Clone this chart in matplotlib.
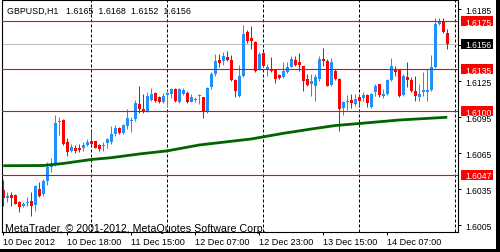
import matplotlib
matplotlib.use('Agg')
import matplotlib.pyplot as plt
from matplotlib.patches import Rectangle
import numpy as np

plt.rcParams['font.family'] = ['Liberation Sans', 'DejaVu Sans']

title = 'GBPUSD,H1   1.6165  1.6168  1.6152  1.6156'
copyright_txt = 'MetaTrader, \u00a9 2001-2012, MetaQuotes Software Corp.'

# hourly bars
opens = [1.60342, 1.60278, 1.60300, 1.60300, 1.60239, 1.60211, 1.60233, 1.60247, 1.60217, 1.60350,
         1.60308, 1.60419, 1.60530, 1.60550, 1.60911, 1.60925, 1.60744, 1.60667, 1.60692, 1.60692,
         1.60689, 1.60719, 1.60750, 1.60747, 1.60717, 1.60711, 1.60733, 1.60739, 1.60808, 1.60855,
         1.60820, 1.60878, 1.60915, 1.60933, 1.61058, 1.61017, 1.61003, 1.61092, 1.61150, 1.61120,
         1.61072, 1.61133, 1.61142, 1.61183, 1.61072, 1.61142, 1.61150, 1.61078, 1.61092, 1.61122,
         1.61114, 1.60989, 1.61197, 1.61308, 1.61425, 1.61419, 1.61447, 1.61425, 1.61258, 1.61128,
         1.61294, 1.61656, 1.61608, 1.61572, 1.61350, 1.61481, 1.61350, 1.61342, 1.61342, 1.61300,
         1.61281, 1.61322, 1.61369, 1.61425, 1.61411, 1.61372, 1.61267, 1.61225, 1.61211, 1.61267,
         1.61433, 1.61414, 1.61220, 1.61335, 1.61267, 1.61025, 1.61075, 1.61093, 1.61062, 1.61120,
         1.61106, 1.61133, 1.61031, 1.61156, 1.61225, 1.61128, 1.61142, 1.61258, 1.61350, 1.61342,
         1.61133, 1.61281, 1.61261, 1.61169, 1.61114, 1.61161, 1.61161, 1.61175, 1.61364, 1.61725,
         1.61744, 1.61650]
highs = [1.60425, 1.60328, 1.60322, 1.60305, 1.60253, 1.60239, 1.60281, 1.60322, 1.60383, 1.60406,
         1.60433, 1.60572, 1.60608, 1.60967, 1.60947, 1.60933, 1.60772, 1.60725, 1.60717, 1.60725,
         1.60744, 1.60767, 1.60844, 1.60750, 1.60725, 1.60739, 1.60772, 1.60878, 1.60880, 1.60870,
         1.60895, 1.61015, 1.60947, 1.61090, 1.61206, 1.61140, 1.61156, 1.61189, 1.61156, 1.61128,
         1.61147, 1.61175, 1.61189, 1.61190, 1.61195, 1.61189, 1.61170, 1.61142, 1.61114, 1.61142,
         1.61116, 1.61197, 1.61322, 1.61475, 1.61475, 1.61489, 1.61503, 1.61469, 1.61267, 1.61383,
         1.61717, 1.61675, 1.61711, 1.61580, 1.61489, 1.61481, 1.61392, 1.61447, 1.61342, 1.61308,
         1.61406, 1.61411, 1.61456, 1.61461, 1.61481, 1.61378, 1.61308, 1.61308, 1.61308, 1.61461,
         1.61525, 1.61430, 1.61439, 1.61350, 1.61275, 1.61086, 1.61133, 1.61140, 1.61140, 1.61140,
         1.61155, 1.61142, 1.61150, 1.61225, 1.61228, 1.61183, 1.61267, 1.61439, 1.61378, 1.61345,
         1.61308, 1.61411, 1.61281, 1.61294, 1.61225, 1.61322, 1.61350, 1.61467, 1.61772, 1.61772,
         1.61772, 1.61680]
lows = [1.60211, 1.60239, 1.60211, 1.60225, 1.60161, 1.60197, 1.60206, 1.60128, 1.60170, 1.60281,
        1.60294, 1.60383, 1.60489, 1.60539, 1.60800, 1.60717, 1.60622, 1.60656, 1.60650, 1.60661,
        1.60669, 1.60711, 1.60717, 1.60689, 1.60669, 1.60669, 1.60692, 1.60725, 1.60795, 1.60805,
        1.60805, 1.60850, 1.60825, 1.60920, 1.60983, 1.60983, 1.60989, 1.61081, 1.61072, 1.61067,
        1.61064, 1.61031, 1.61106, 1.61078, 1.61064, 1.61136, 1.61064, 1.61072, 1.61072, 1.61058,
        1.60939, 1.60983, 1.61183, 1.61295, 1.61364, 1.61380, 1.61419, 1.61253, 1.61119, 1.61114,
        1.61281, 1.61564, 1.61517, 1.61322, 1.61342, 1.61369, 1.61294, 1.61328, 1.61233, 1.61264,
        1.61272, 1.61314, 1.61364, 1.61378, 1.61336, 1.61169, 1.61211, 1.61128, 1.61086, 1.61253,
        1.61378, 1.61206, 1.61210, 1.61255, 1.60833, 1.60970, 1.61010, 1.61025, 1.61045, 1.61045,
        1.61086, 1.61030, 1.61022, 1.61122, 1.61114, 1.61106, 1.61133, 1.61253, 1.61294, 1.61114,
        1.61128, 1.61197, 1.61161, 1.61086, 1.61086, 1.61122, 1.61086, 1.61170, 1.61356, 1.61717,
        1.61650, 1.61520]
closes = [1.60272, 1.60294, 1.60278, 1.60228, 1.60203, 1.60222, 1.60244, 1.60206, 1.60372, 1.60294,
          1.60419, 1.60530, 1.60550, 1.60900, 1.60920, 1.60725, 1.60661, 1.60697, 1.60669, 1.60675,
          1.60717, 1.60744, 1.60725, 1.60692, 1.60683, 1.60720, 1.60767, 1.60808, 1.60860, 1.60820,
          1.60880, 1.60945, 1.60928, 1.61064, 1.61017, 1.60994, 1.61128, 1.61142, 1.61081, 1.61072,
          1.61128, 1.61147, 1.61183, 1.61086, 1.61183, 1.61178, 1.61072, 1.61114, 1.61097, 1.61128,
          1.60989, 1.61189, 1.61308, 1.61419, 1.61399, 1.61461, 1.61428, 1.61261, 1.61169, 1.61294,
          1.61642, 1.61586, 1.61581, 1.61336, 1.61475, 1.61378, 1.61364, 1.61331, 1.61267, 1.61272,
          1.61336, 1.61369, 1.61433, 1.61386, 1.61383, 1.61253, 1.61219, 1.61253, 1.61286, 1.61433,
          1.61414, 1.61211, 1.61410, 1.61267, 1.61017, 1.61075, 1.61083, 1.61070, 1.61103, 1.61086,
          1.61133, 1.61070, 1.61142, 1.61206, 1.61133, 1.61142, 1.61258, 1.61372, 1.61322, 1.61128,
          1.61294, 1.61258, 1.61169, 1.61122, 1.61142, 1.61175, 1.61175, 1.61364, 1.61725, 1.61744,
          1.61661, 1.61560]

# moving average, sampled where it could be read
ma_bars = [0, 10, 15, 22, 27, 34, 41, 49, 62, 70, 77, 83, 89, 99, 111]
ma_vals = [1.60544, 1.60546, 1.60563, 1.60596, 1.60611, 1.60642, 1.60668, 1.60717,
           1.60767, 1.60814, 1.60850, 1.60879, 1.60896, 1.60925, 1.60948]

red_levels = [1.6175, 1.6135, 1.6100, 1.6047]
bid = 1.6156

time_tick_bars = [0, 16, 32, 48, 64, 80, 96]
time_tick_labels = ['10 Dec 2012', '10 Dec 18:00', '11 Dec 15:00', '12 Dec 07:00',
                    '12 Dec 23:00', '13 Dec 15:00', '14 Dec 07:00']
day_sep_bars = [22, 41, 65, 89, 113]
price_ticks = [1.6185, 1.6155, 1.6125, 1.6095, 1.6065, 1.6035, 1.6005]

W, H = 500, 253
fig = plt.figure(figsize=(W / 100, H / 100), dpi=100, facecolor='white')
ax = fig.add_axes([2 / W, 20.5 / H, 455.5 / W, 231.5 / H])
ax.set_facecolor('white')
ax.set_xlim(-0.325, 113.55)
ax.set_ylim(1.59996, 1.61925)

x = np.arange(len(opens))
o = np.array(opens)
c = np.array(closes)
up = c >= o
cols = np.where(up, '#1E90FF', '#FF0000')

for d in day_sep_bars:
    ax.axvline(d, color='black', lw=0.72, ls=(0, (3, 2)), zorder=1)
ax.axhline(bid, color='#C0C0C0', lw=0.8, zorder=1)

ax.vlines(x, lows, highs, colors=cols, lw=0.72, zorder=2)
body = np.maximum(np.abs(c - o), 0.00009)
ax.bar(x, body, bottom=np.minimum(o, c), width=0.75, color=cols, lw=0, zorder=2)

ax.plot(ma_bars, ma_vals, color='#006400', lw=2.0, zorder=3, solid_capstyle='butt')

for lv in red_levels:
    ax.axhline(lv, color='#FF0000', lw=0.8, zorder=4)

for sp in ax.spines.values():
    sp.set_color('black')
    sp.set_linewidth(0.8)

ax.set_xticks(time_tick_bars)
ax.set_xticklabels(time_tick_labels, ha='left')
ax.tick_params(axis='x', direction='out', length=2.5, width=0.72, pad=1.5, labelsize=6.6)
for lab in ax.get_xticklabels():
    lab.set_x(lab.get_position()[0])
ax.yaxis.tick_right()
ax.set_yticks(price_ticks)
# 1.6155 sits under the bid box
ax.set_yticklabels(['' if abs(p - 1.6155) < 1e-6 else f'{p:.4f}' for p in price_ticks])
ax.tick_params(axis='y', direction='out', length=2.5, width=0.72, pad=2.9, labelsize=6.2)

# price boxes on the scale
tr = ax.get_yaxis_transform()
box_h = 10 / 12000
for lv, bg in [(lv, '#FF0000') for lv in red_levels] + [(bid, 'black')]:
    ax.add_patch(Rectangle((1.007, lv - box_h / 2), 0.0703, box_h, transform=tr,
                           facecolor=bg, edgecolor='none', clip_on=False, zorder=6))
    ax.text(1.0165, lv, f'{lv:.4f}', transform=tr, color='white', fontsize=6.2,
            ha='left', va='center_baseline', clip_on=False, zorder=7)

fig.text(7 / W, 1 - 14 / H, title, fontsize=6.4, va='baseline', color='black')
fig.text(5 / W, 1 - 231.5 / H, copyright_txt, fontsize=7.7, va='baseline', color='black', zorder=8)

# window frame shadow
fig.patches.append(Rectangle((496 / W, 0), 4 / W, 1, transform=fig.transFigure,
                             facecolor='black', edgecolor='none'))
fig.patches.append(Rectangle((0, 0), 1, 3 / H, transform=fig.transFigure,
                             facecolor='black', edgecolor='none'))

fig.savefig('out.png', dpi=100)
